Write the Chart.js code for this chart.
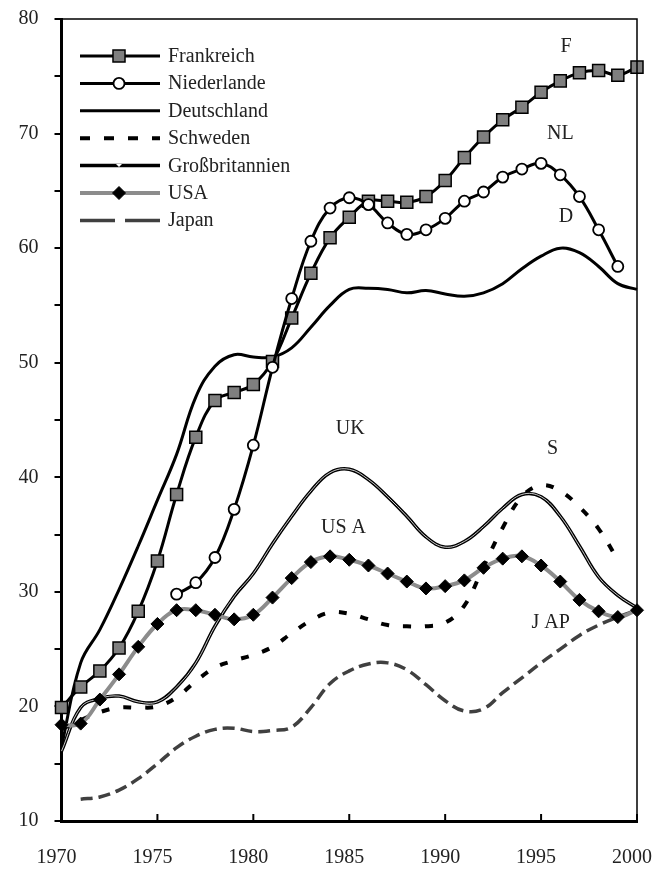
<!DOCTYPE html>
<html lang="de">
<head>
<meta charset="UTF-8">
<title>Chart</title>
<script src="https://cdn.jsdelivr.net/npm/chart.js@4.4.1/dist/chart.umd.min.js"></script>
<style>
    html, body { margin: 0; padding: 0; background: #fff; }
    #wrap { width: 655px; height: 869px; position: relative; }
</style>
</head>
<body>
<div id="wrap"><canvas id="myChart"></canvas></div>
<script>
// Daten
const years = [1970, 1971, 1972, 1973, 1974, 1975, 1976, 1977, 1978, 1979, 1980,
    1981, 1982, 1983, 1984, 1985, 1986, 1987, 1988, 1989, 1990,
    1991, 1992, 1993, 1994, 1995, 1996, 1997, 1998, 1999, 2000];
const frankreich = [19.9, 21.7, 23.1, 25.1, 28.3, 32.7, 38.5, 43.5, 46.7, 47.4, 48.1,
    50.1, 53.9, 57.8, 60.9, 62.7, 64.1, 64.1, 64.0, 64.5, 65.9,
    67.9, 69.7, 71.2, 72.3, 73.6, 74.6, 75.3, 75.5, 75.1, 75.8];
const niederlande = [null, null, null, null, null, null, 29.8, 30.8, 33.0, 37.2, 42.8,
    49.6, 55.6, 60.6, 63.5, 64.4, 63.8, 62.2, 61.2, 61.6, 62.6,
    64.1, 64.9, 66.2, 66.9, 67.4, 66.4, 64.5, 61.6, 58.4, null];
const deutschland = [16.5, 23.8, 26.7, 30.2, 34.0, 38.0, 42.0, 47.0, 49.7, 50.7, 50.5,
    50.5, 51.3, 53.1, 55.0, 56.4, 56.5, 56.4, 56.1, 56.3, 56.0,
    55.8, 56.1, 56.9, 58.2, 59.3, 60.0, 59.6, 58.4, 56.9, 56.4];
const schweden = [18.0, 18.8, 19.5, 19.9, 19.9, 20.0, 20.8, 22.2, 23.4, 24.0, 24.5,
    25.2, 26.4, 27.5, 28.2, 28.1, 27.6, 27.1, 27.0, 27.0, 27.3,
    28.8, 32.2, 35.6, 38.3, 39.3, 38.8, 37.4, 35.5, 32.8, null];
const grossbritannien = [16.1, 19.9, 20.7, 20.9, 20.4, 20.4, 21.7, 23.8, 27.0, 29.6, 31.6,
    34.2, 36.6, 38.8, 40.4, 40.7, 39.8, 38.3, 36.6, 34.8, 33.9,
    34.4, 35.7, 37.3, 38.5, 38.3, 36.6, 34.0, 31.3, 29.7, 28.6];
const usa = [18.4, 18.5, 20.6, 22.8, 25.2, 27.2, 28.4, 28.4, 28.0, 27.6, 28.0,
    29.5, 31.2, 32.6, 33.1, 32.8, 32.3, 31.6, 30.9, 30.3, 30.5,
    31.0, 32.1, 32.9, 33.1, 32.3, 30.9, 29.3, 28.3, 27.8, 28.4];
const japan = [null, 11.9, 12.1, 12.7, 13.7, 15.0, 16.4, 17.4, 18.0, 18.1, 17.8,
    17.9, 18.2, 19.9, 22.0, 23.1, 23.7, 23.8, 23.2, 21.9, 20.5,
    19.6, 19.8, 21.2, 22.5, 23.8, 25.0, 26.2, 27.1, 27.8, 28.4];

const yTicks = [10, 20, 30, 40, 50, 60, 70, 80];
const xTicks = [1970, 1975, 1980, 1985, 1990, 1995, 2000];

// Kurzbezeichnungen im Diagramm
const kurzLabels = ['F', 'NL', 'D', 'UK', 'S', 'US A', 'J AP'];
const kurzX = [1996.3, 1996.0, 1996.3, 1985.05, 1995.6, 1984.7, 1995.5];
const kurzY = [77.6, 70.0, 62.7, 44.2, 42.5, 35.6, 27.3];

const FONT = '"Liberation Serif", "DejaVu Serif", serif';

var f_points = function (arr) {
    return years.map(function (yr, i) { return { x: yr, y: arr[i] }; });
};

const base = { tension: 0.4, fill: false, clip: false, spanGaps: false, borderCapStyle: 'butt' };

const datasets = [
    Object.assign({}, base, {
        label: 'Frankreich', data: f_points(frankreich), borderColor: '#000', borderWidth: 3,
        pointStyle: 'rect', pointRadius: 8.5, pointBackgroundColor: '#7f7f7f',
        pointBorderColor: '#000', pointBorderWidth: 1.5, order: 6
    }),
    Object.assign({}, base, {
        label: 'Niederlande', data: f_points(niederlande), borderColor: '#000', borderWidth: 3,
        pointStyle: 'circle', pointRadius: 5.5, pointBackgroundColor: '#fff',
        pointBorderColor: '#000', pointBorderWidth: 1.8, order: 5
    }),
    Object.assign({}, base, {
        label: 'Deutschland', data: f_points(deutschland), borderColor: '#000', borderWidth: 3,
        pointRadius: 0, order: 7
    }),
    Object.assign({}, base, {
        label: 'Schweden', data: f_points(schweden), borderColor: '#000', borderWidth: 4,
        borderDash: [8, 14], pointRadius: 0, order: 4
    }),
    Object.assign({}, base, {
        label: 'Großbritannien', data: f_points(grossbritannien), borderColor: '#000', borderWidth: 3.5,
        pointRadius: 0, order: 3
    }),
    Object.assign({}, base, {
        label: 'GB_innen', data: f_points(grossbritannien), borderColor: '#fff', borderWidth: 0.8,
        pointRadius: 0, order: 2
    }),
    Object.assign({}, base, {
        label: 'USA', data: f_points(usa), borderColor: '#8c8c8c', borderWidth: 4,
        pointStyle: 'rectRot', pointRadius: 6.5, pointBackgroundColor: '#000',
        pointBorderColor: '#000', pointBorderWidth: 1, order: 1
    }),
    Object.assign({}, base, {
        label: 'Japan', data: f_points(japan), borderColor: '#404040', borderWidth: 3.5,
        borderDash: [12, 6], pointRadius: 0, order: 8
    })
];

// Rahmen oben/rechts, Striche nach innen, Kurzlabels, Legende
const extras = {
    id: 'extras',
    afterDraw: function (chart) {
        const c = chart.ctx;
        const a = chart.chartArea;
        const xs = chart.scales.x, ys = chart.scales.y;
        c.save();
        c.strokeStyle = '#000';
        c.lineWidth = 1.5;
        c.beginPath();
        c.moveTo(a.left, a.top); c.lineTo(a.right, a.top); c.lineTo(a.right, a.bottom);
        c.stroke();
        // x-Striche nach innen
        c.lineWidth = 2;
        xTicks.forEach(function (t) {
            const px = xs.getPixelForValue(t);
            c.beginPath(); c.moveTo(px, a.bottom); c.lineTo(px, a.bottom - 7); c.stroke();
        });
        // Kurzlabels
        c.fillStyle = '#222';
        c.font = '20px ' + FONT;
        c.textAlign = 'center';
        c.textBaseline = 'middle';
        kurzLabels.forEach(function (t, i) {
            c.fillText(t, xs.getPixelForValue(kurzX[i]), ys.getPixelForValue(kurzY[i]));
        });
        // Legende
        const legend = [
            { name: 'Frankreich', ds: 0 },
            { name: 'Niederlande', ds: 1 },
            { name: 'Deutschland', ds: 2 },
            { name: 'Schweden', ds: 3, dash: [10, 14] },
            { name: 'Großbritannien', ds: 4 },
            { name: 'USA', ds: 6 },
            { name: 'Japan', ds: 7, dash: [35, 10] }
        ];
        const x0 = 80, x1 = 160, xm = 119;
        legend.forEach(function (e, i) {
            const y = 56 + i * 27.4;
            const d = datasets[e.ds];
            c.save();
            c.strokeStyle = d.borderColor;
            c.lineWidth = d.borderWidth;
            c.setLineDash(e.dash || []);
            c.beginPath(); c.moveTo(x0, y); c.lineTo(x1, y); c.stroke();
            c.restore();
            if (d.pointRadius > 0) {
                c.save();
                c.fillStyle = d.pointBackgroundColor;
                c.strokeStyle = d.pointBorderColor;
                c.lineWidth = d.pointBorderWidth;
                Chart.helpers.drawPoint(c, { pointStyle: d.pointStyle, radius: d.pointRadius, rotation: 0, borderWidth: d.pointBorderWidth }, xm, y);
                c.restore();
            }
            if (e.name === 'Großbritannien') {
                c.save();
                c.fillStyle = '#fff';
                c.beginPath(); c.moveTo(xm - 3, y - 1.5); c.lineTo(xm + 3, y - 1.5); c.lineTo(xm, y + 1.5); c.closePath(); c.fill();
                c.restore();
            }
            c.fillStyle = '#222';
            c.textAlign = 'left';
            c.textBaseline = 'alphabetic';
            c.fillText(e.name, 168, y + 6);
        });
        c.restore();
    }
};

const ctx = document.getElementById('myChart').getContext('2d');
const myChart = new Chart(ctx, {
    type: 'line',
    data: { datasets: datasets },
    options: {
        responsive: true,
        maintainAspectRatio: false,
        animation: false,
        layout: { padding: { top: 19, right: 18, left: 0, bottom: 0 } },
        plugins: { legend: { display: false }, tooltip: { enabled: false } },
        scales: {
            x: {
                type: 'linear', min: 1970, max: 2000,
                afterBuildTicks: function (s) { s.ticks = xTicks.map(function (v) { return { value: v }; }); },
                afterFit: function (s) { s.height = 48; s.paddingLeft = 0; s.paddingRight = 0; },
                ticks: {
                    color: '#222', padding: 17, maxRotation: 0, labelOffset: -5,
                    font: { family: FONT, size: 20 },
                    callback: function (v) { return String(v); }
                },
                grid: { display: false },
                border: { display: true, color: '#000', width: 3 }
            },
            y: {
                min: 10, max: 80,
                ticks: {
                    stepSize: 5, color: '#222', padding: 16,
                    font: { family: FONT, size: 20 },
                    callback: function (v) { return yTicks.indexOf(v) >= 0 ? String(v) : ''; }
                },
                afterFit: function (s) { s.width = 61.5; s.paddingTop = 0; s.paddingBottom = 0; },
                grid: { drawOnChartArea: false, tickLength: 7, color: '#000', lineWidth: 2 },
                border: { display: true, color: '#000', width: 3 }
            }
        }
    },
    plugins: [extras]
});
</script>
</body>
</html>
